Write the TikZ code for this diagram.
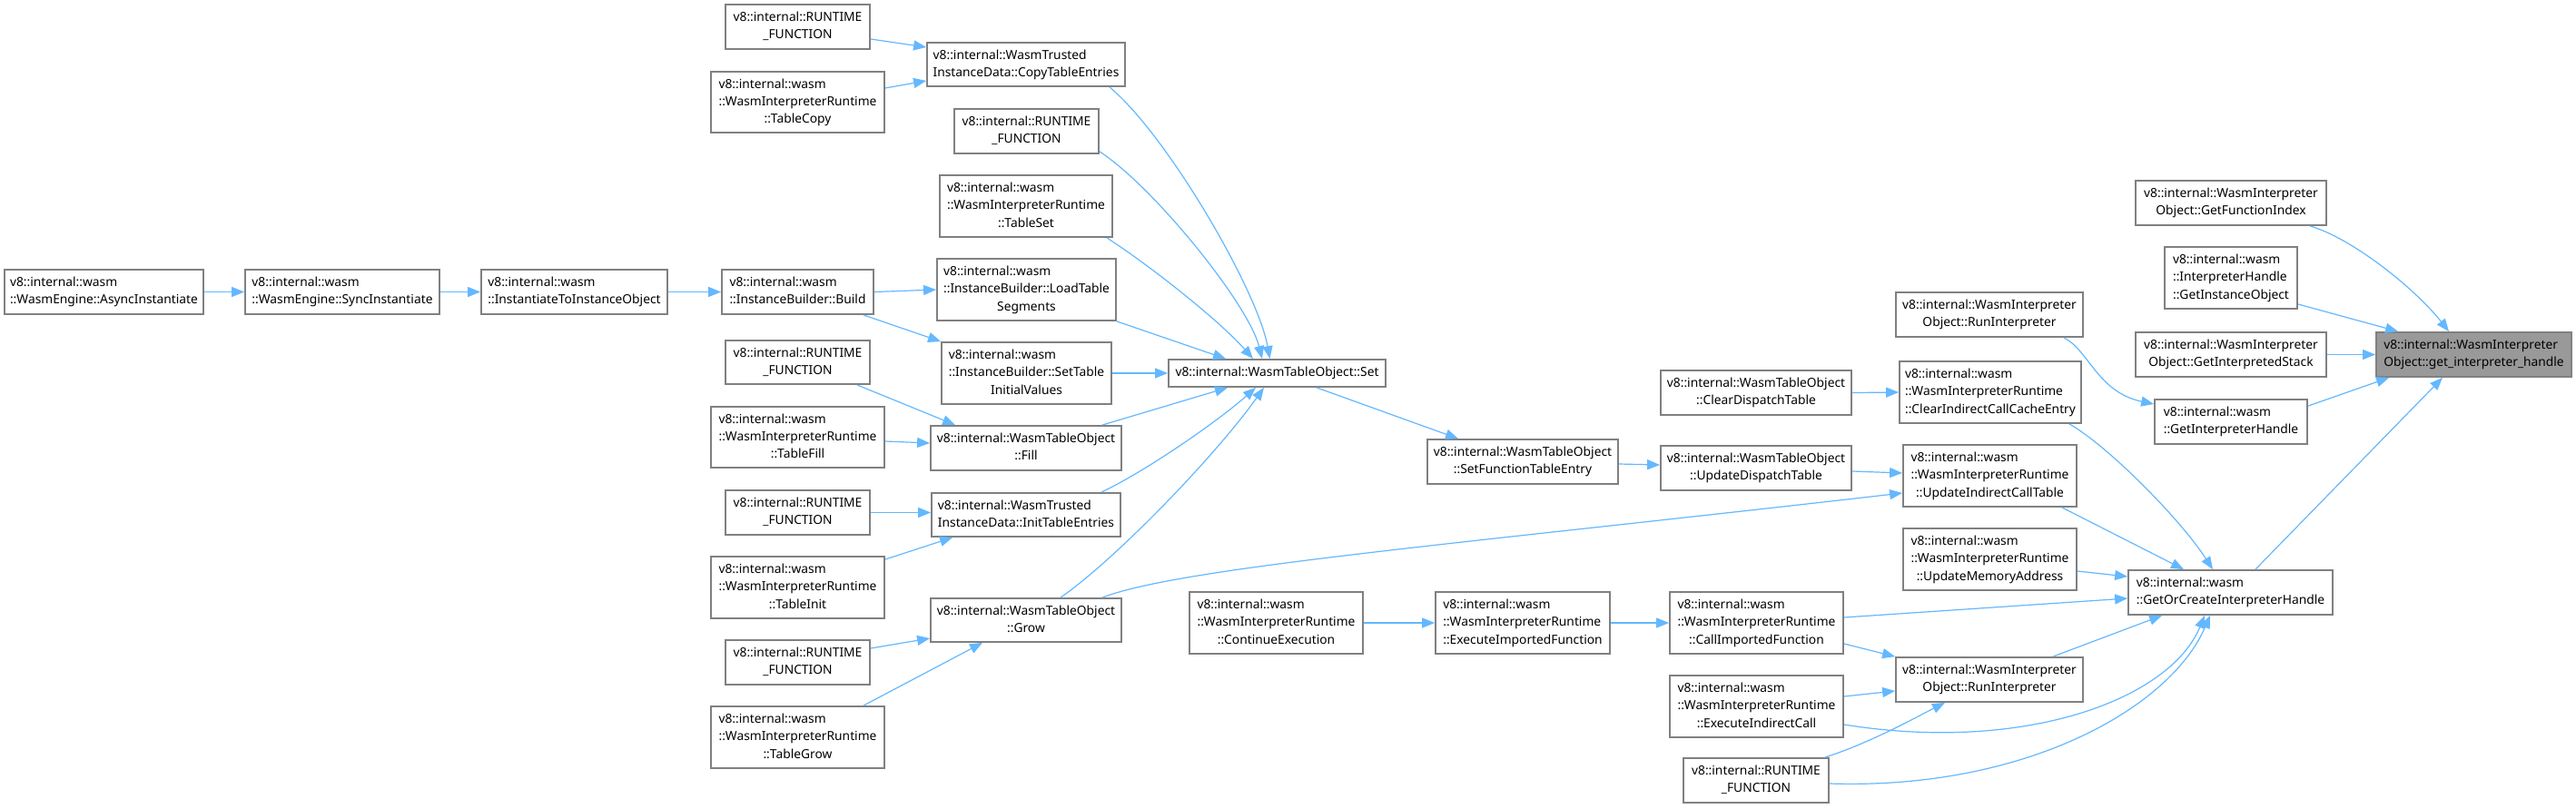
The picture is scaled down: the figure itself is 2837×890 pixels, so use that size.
\documentclass[tikz,border=0pt]{standalone}
\usepackage{fontspec}
\setmainfont{Noto Sans}
\usetikzlibrary{arrows.meta}
\definecolor{edgec}{HTML}{63B8FF}
\definecolor{bord}{HTML}{808080}
\definecolor{hl}{HTML}{999999}
\newcommand\dlab[2]{\begin{tabular}{@{}l@{}}#1\\\multicolumn{1}{@{}c@{}}{#2}\end{tabular}}
\newcommand\dnode[7][]{\node[box,#1,minimum width={(#5-#3)*0.5pt},minimum height={(#6-#4)*0.5pt}] (#2) at ({(#3+#5)/2},{(#4+#6)/2}) {#7};}
\begin{document}
\begin{tikzpicture}[x=0.5pt,y=-0.5pt,
  box/.style={draw=bord,line width=0.9pt,fill=white,inner sep=0pt,font=\fontsize{6.9}{9.6}\selectfont},
  edge/.style={draw=edgec,line width=0.6pt,-{Triangle[length=7pt,width=5.5pt]}}]
\fill[white] (0,0) rectangle (2837,890);
\useasboundingbox (0,0) rectangle (2837,890);
% nodes
\dnode{async}{5}{297}{224}{346}{\dlab{v8::internal::wasm}{::WasmEngine::AsyncInstantiate}}
\dnode{sync}{270}{297}{484}{346}{\dlab{v8::internal::wasm}{::WasmEngine::SyncInstantiate}}
\dnode{inst}{530}{297}{735}{346}{\dlab{v8::internal::wasm}{::InstantiateToInstanceObject}}
\dnode{build}{795}{297}{962}{346}{\dlab{v8::internal::wasm}{::InstanceBuilder::Build}}
\dnode{rfa}{799}{5}{958}{54}{\dlab{v8::internal::RUNTIME}{\_FUNCTION}}
\dnode{cte}{1021}{47}{1239}{95}{\dlab{v8::internal::WasmTrusted}{InstanceData::CopyTableEntries}}
\dnode{tcopy}{783}{79}{974}{146}{\dlab{v8::internal::wasm\\::WasmInterpreterRuntime}{::TableCopy}}
\dnode{rfb}{1051}{120}{1210}{169}{\dlab{v8::internal::RUNTIME}{\_FUNCTION}}
\dnode{tset}{1035}{193}{1225}{261}{\dlab{v8::internal::wasm\\::WasmInterpreterRuntime}{::TableSet}}
\dnode{load}{1032}{285}{1229}{353}{\dlab{v8::internal::wasm\\::InstanceBuilder::LoadTable}{Segments}}
\dnode{setinit}{1037}{377}{1224}{445}{\dlab{v8::internal::wasm\\::InstanceBuilder::SetTable}{InitialValues}}
\dnode{rfc}{799}{375}{958}{423}{\dlab{v8::internal::RUNTIME}{\_FUNCTION}}
\dnode{tfill}{783}{448}{974}{515}{\dlab{v8::internal::wasm\\::WasmInterpreterRuntime}{::TableFill}}
\dnode{tofill}{1025}{469}{1235}{518}{\dlab{v8::internal::WasmTableObject}{::Fill}}
\dnode{rfd}{799}{540}{958}{589}{\dlab{v8::internal::RUNTIME}{\_FUNCTION}}
\dnode{initte}{1026}{543}{1234}{591}{\dlab{v8::internal::WasmTrusted}{InstanceData::InitTableEntries}}
\dnode{tinit}{783}{613}{974}{681}{\dlab{v8::internal::wasm\\::WasmInterpreterRuntime}{::TableInit}}
\dnode{togrow}{1025}{659}{1235}{707}{\dlab{v8::internal::WasmTableObject}{::Grow}}
\dnode{rfe}{799}{705}{958}{754}{\dlab{v8::internal::RUNTIME}{\_FUNCTION}}
\dnode{tgrow}{783}{778}{974}{846}{\dlab{v8::internal::wasm\\::WasmInterpreterRuntime}{::TableGrow}}
\dnode{toset}{1287}{396}{1526}{426}{v8::internal::WasmTableObject::Set}
\dnode{sfte}{1572}{484}{1782}{533}{\dlab{v8::internal::WasmTableObject}{::SetFunctionTableEntry}}
\dnode{cont}{1310}{652}{1501}{720}{\dlab{v8::internal::wasm\\::WasmInterpreterRuntime}{::ContinueExecution}}
\dnode{execimp}{1581}{652}{1773}{720}{\dlab{v8::internal::wasm\\::WasmInterpreterRuntime}{::ExecuteImportedFunction}}
\dnode{cdt}{1829}{408}{2039}{457}{\dlab{v8::internal::WasmTableObject}{::ClearDispatchTable}}
\dnode{udt}{1829}{491}{2039}{540}{\dlab{v8::internal::WasmTableObject}{::UpdateDispatchTable}}
\dnode{ria}{2088}{322}{2294}{371}{\dlab{v8::internal::WasmInterpreter}{Object::RunInterpreter}}
\dnode{cicce}{2092}{398}{2292}{466}{\dlab{v8::internal::wasm\\::WasmInterpreterRuntime}{::ClearIndirectCallCacheEntry}}
\dnode{uict}{2096}{490}{2287}{558}{\dlab{v8::internal::wasm\\::WasmInterpreterRuntime}{::UpdateIndirectCallTable}}
\dnode{uma}{2096}{582}{2287}{650}{\dlab{v8::internal::wasm\\::WasmInterpreterRuntime}{::UpdateMemoryAddress}}
\dnode{cif}{1839}{652}{2030}{720}{\dlab{v8::internal::wasm\\::WasmInterpreterRuntime}{::CallImportedFunction}}
\dnode{rib}{2088}{724}{2294}{773}{\dlab{v8::internal::WasmInterpreter}{Object::RunInterpreter}}
\dnode{eic}{1839}{744}{2030}{812}{\dlab{v8::internal::wasm\\::WasmInterpreterRuntime}{::ExecuteIndirectCall}}
\dnode{rff}{1854}{835}{2014}{884}{\dlab{v8::internal::RUNTIME}{\_FUNCTION}}
\dnode{goc}{2344}{628}{2569}{677}{\dlab{v8::internal::wasm}{::GetOrCreateInterpreterHandle}}
\dnode{gfi}{2352}{199}{2562}{248}{\dlab{v8::internal::WasmInterpreter}{Object::GetFunctionIndex}}
\dnode{gio}{2384}{272}{2530}{340}{\dlab{v8::internal::wasm\\::InterpreterHandle}{::GetInstanceObject}}
\dnode{gis}{2352}{366}{2562}{415}{\dlab{v8::internal::WasmInterpreter}{Object::GetInterpretedStack}}
\dnode{gihb}{2373}{440}{2541}{489}{\dlab{v8::internal::wasm}{::GetInterpreterHandle}}
\dnode[fill=hl]{gih}{2617}{366}{2832}{415}{\dlab{v8::internal::WasmInterpreter}{Object::get\_interpreter\_handle}}
% edges
\draw[edge] (async.east) -- (sync.west);
\draw[edge] (sync.east) -- (inst.west);
\draw[edge] (inst.east) -- (build.west);
\draw[edge] (build.east) -- (load.west);
\draw[edge] ([xshift=-6pt]build.south east) -- (setinit.north west);
\draw[edge] ([yshift=-6.75pt]rfa.east) -- ([yshift=9.5pt]cte.west);
\draw[edge] ([yshift=7.75pt]tcopy.east) -- ([yshift=-9pt]cte.west);
\draw[edge] ([xshift=-9pt]cte.south east) .. controls (1285,148) and (1385,320) .. ([xshift=-4pt]toset.north);
\draw[edge] ([yshift=1.5pt]rfb.south east) .. controls (1270,205) and (1375,335) .. ([xshift=-8.25pt]toset.north);
\draw[edge] ([xshift=-3.5pt]tset.south east) .. controls (1260,288) and (1340,350) .. ([xshift=-13.25pt]toset.north);
\draw[edge] (load.south east) -- ([xshift=-28.25pt]toset.north);
\draw[edge] (setinit.east) -- (toset.west);
\draw[edge] ([xshift=-11pt]tofill.north east) -- ([xshift=-27.25pt]toset.south);
\draw[edge] ([xshift=-11pt]initte.north east) .. controls (1260,520) and (1340,465) .. ([xshift=-11.75pt]toset.south);
\draw[edge] ([xshift=19pt]togrow.north) .. controls (1230,615) and (1340,500) .. ([xshift=-7.25pt]toset.south);
\draw[edge] ([xshift=-11pt]togrow.north east) .. controls (1300,625) and (1600,600) .. ([yshift=-9.5pt]uict.west);
\draw[edge] ([xshift=-7.5pt]rfc.south east) -- ([xshift=14pt]tofill.north west);
\draw[edge] ([yshift=-2.25pt]tfill.east) -- ([yshift=2.75pt]tofill.west);
\draw[edge] (rfd.east) -- ([yshift=1.25pt]initte.west);
\draw[edge] ([yshift=-2pt]tinit.north east) -- ([xshift=12pt]initte.south west);
\draw[edge] ([yshift=7.75pt]rfe.east) -- ([yshift=-10pt]togrow.west);
\draw[edge] ([xshift=-12pt]tgrow.north east) -- ([xshift=-24pt]togrow.south);
\draw[edge] ([xshift=21.75pt]toset.south) -- ([xshift=-35.5pt]sfte.north);
\draw[edge] ([yshift=-1.25pt]sfte.east) -- ([yshift=1.75pt]udt.west);
\draw[edge] (cdt.east) -- (cicce.west);
\draw[edge] ([yshift=-1.75pt]udt.east) -- ([yshift=1.5pt]uict.west);
\draw[edge] (cont.east) -- (execimp.west);
\draw[edge] (execimp.east) -- (cif.west);
\draw[edge] ([yshift=3pt]cif.east) -- ([yshift=-3.25pt]goc.west);
\draw[edge] ([yshift=-11.5pt]cif.east) -- (rib.north west);
\draw[edge] ([yshift=5.5pt]eic.east) -- ([yshift=-6.25pt]rib.west);
\draw[edge] ([yshift=-10pt]eic.east) .. controls (2230,830) and (2390,770) .. ([xshift=-14.25pt]goc.south);
\draw[edge] ([xshift=-2.5pt]rff.north east) .. controls (2060,818) and (2110,790) .. ([xshift=-24.5pt]rib.south);
\draw[edge] ([yshift=-1.75pt]rff.east) .. controls (2230,870) and (2390,780) .. ([xshift=-11.25pt]goc.south);
\draw[edge] ([xshift=-17pt]rib.north east) -- ([xshift=19pt]goc.south west);
\draw[edge] ([xshift=-7pt]cicce.south east) .. controls (2320,490) and (2400,570) .. ([xshift=-9.75pt]goc.north);
\draw[edge] ([xshift=-8.5pt]uict.south east) -- ([xshift=-25.75pt]goc.north);
\draw[edge] ([yshift=-6.5pt]uma.east) -- ([yshift=8.75pt]goc.west);
\draw[edge] ([xshift=-43pt]goc.north east) -- ([xshift=-17.25pt]gih.south);
\draw[edge] ([xshift=-9.5pt]gfi.south east) .. controls (2590,262) and (2660,318) .. ([xshift=-13.75pt]gih.north);
\draw[edge] ([yshift=-14.5pt]gio.east) -- ([xshift=12.5pt]gih.north west);
\draw[edge] (gis.east) -- (gih.west);
\draw[edge] ([yshift=-4pt]gihb.north east) -- ([xshift=7.5pt]gih.south west);
\draw[edge] ([xshift=-11pt]ria.south east) .. controls (2300,385) and (2310,432) .. ([yshift=9.75pt]gihb.west);
\end{tikzpicture}
\end{document}
